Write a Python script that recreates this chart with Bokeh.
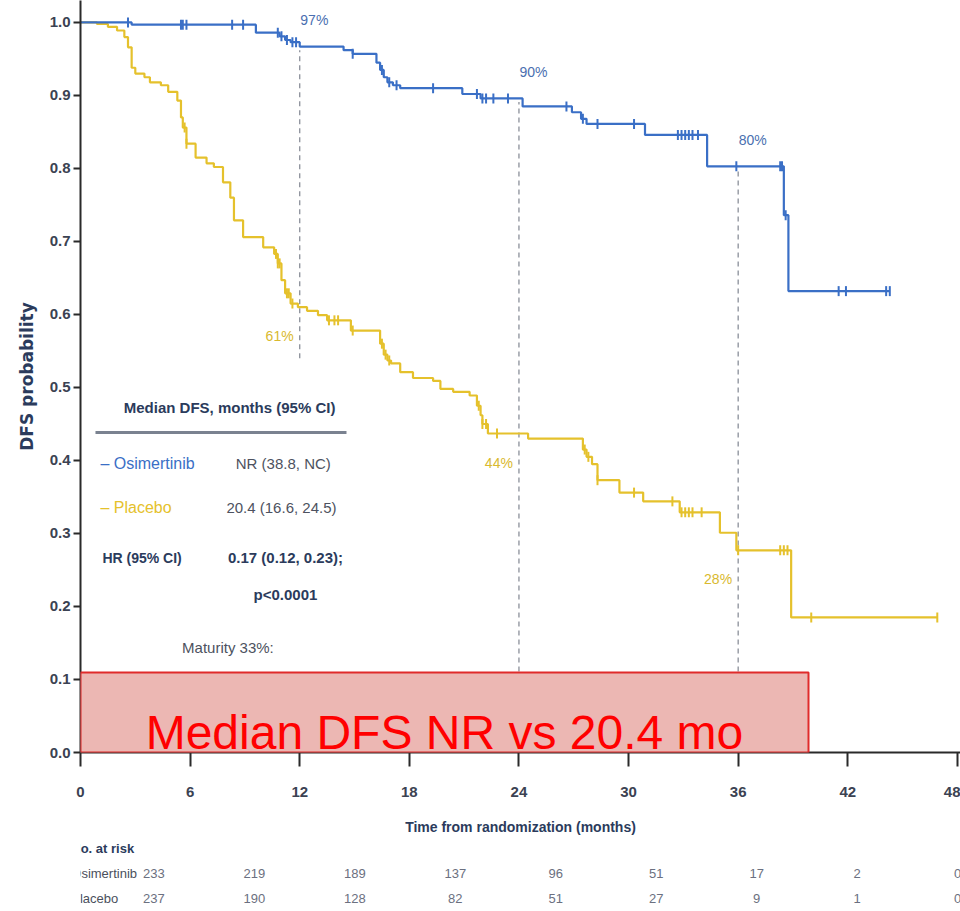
import numpy as np
from bokeh.plotting import figure
from bokeh.models import Range1d, FixedTicker, PrintfTickFormatter, BoxAnnotation, Label
from bokeh.layouts import column
from bokeh.embed import file_html
from bokeh.resources import INLINE
from bokeh.core.properties import value

# ---------------- data ----------------
osi_event_t = [0, 2.8, 9.6, 10.9, 11.2, 11.5, 12.0, 14.4, 14.9, 16.2, 16.4, 16.6, 16.8, 17.1, 17.5,
               20.9, 21.9, 24.2, 26.9, 27.4, 27.7, 30.9, 34.3, 38.5, 38.75]
osi_surv = [1.0, 0.997, 0.986, 0.981, 0.976, 0.973, 0.967, 0.962, 0.957, 0.945, 0.935, 0.925, 0.918, 0.914, 0.910,
            0.902, 0.896, 0.885, 0.877, 0.868, 0.861, 0.846, 0.803, 0.736, 0.632]
osi_last_fu = 44.3
osi_censor_t = [2.6, 5.5, 5.6, 5.8, 8.3, 8.9, 10.8, 11.0, 11.3, 11.6, 11.8, 14.9, 16.5, 16.9, 17.3, 19.3,
                21.7, 22.0, 22.2, 22.6, 23.4, 26.6, 27.5, 28.3, 30.3, 32.7, 32.9, 33.1, 33.3, 33.5, 33.8,
                35.9, 38.3, 38.4, 38.6, 41.5, 41.9, 44.1, 44.3]

pla_event_t = [0, 0.9, 1.5, 2.0, 2.4, 2.6, 2.8, 3.0, 3.5, 3.8, 4.4, 4.8, 5.3, 5.5, 5.6, 5.8, 6.3, 6.9, 7.3,
               7.8, 8.2, 8.4, 8.9, 10.0, 10.6, 10.8, 11.0, 11.2, 11.5, 11.9, 12.4, 13.0, 13.5, 14.8, 16.4,
               16.6, 16.8, 17.0, 17.5, 18.2, 19.3, 19.7, 20.4, 21.3, 21.7, 21.9, 22.0, 22.3, 24.5, 27.5,
               27.7, 28.0, 28.3, 29.5, 30.8, 32.8, 35.0, 35.9, 38.9]
pla_surv = [1.0, 0.998, 0.994, 0.989, 0.980, 0.966, 0.938, 0.930, 0.925, 0.918, 0.914, 0.905, 0.893, 0.870,
            0.856, 0.834, 0.815, 0.807, 0.802, 0.781, 0.760, 0.729, 0.706, 0.692, 0.683, 0.670, 0.647, 0.629,
            0.615, 0.610, 0.605, 0.599, 0.592, 0.578, 0.560, 0.545, 0.537, 0.533, 0.521, 0.513, 0.509, 0.498,
            0.494, 0.489, 0.475, 0.462, 0.450, 0.437, 0.430, 0.415, 0.405, 0.395, 0.373, 0.356, 0.344, 0.329,
            0.301, 0.277, 0.185]
pla_last_fu = 46.9
pla_censor_t = [5.7, 5.8, 10.7, 10.8, 10.9, 11.3, 11.4, 11.6, 13.6, 13.9, 14.1, 14.9, 16.5, 16.7, 16.9,
                21.8, 22.0, 22.2, 22.8, 27.6, 27.8, 28.3, 30.3, 32.4, 32.9, 33.1, 33.3, 33.5, 34.0, 36.0,
                38.3, 38.5, 38.7, 40.0, 46.9]

landmark_months = [12, 24, 36]
osi_landmark_pct = [97, 90, 80]
pla_landmark_pct = [61, 44, 28]

x_ticks = [0, 6, 12, 18, 24, 30, 36, 42, 48]
y_ticks = [0.0, 0.1, 0.2, 0.3, 0.4, 0.5, 0.6, 0.7, 0.8, 0.9, 1.0]

risk_osi = [233, 219, 189, 137, 96, 51, 17, 2, 0]
risk_pla = [237, 190, 128, 82, 51, 27, 9, 1, 0]

# ---------------- styling ----------------
BLUE = "#3a6fc6"
YELLOW = "#e5c12c"
NAVY = "#2b3b5c"
GRAY = "#4d5260"
FONT = "Liberation Sans"


def surv_at(ev_t, surv, t):
    idx = np.searchsorted(np.asarray(ev_t), np.asarray(t, dtype=float), side="right") - 1
    return np.asarray(surv)[idx]


X_END = 48.17
Y_END = 1.0301

p = figure(width=960, height=840, x_range=Range1d(0, X_END), y_range=Range1d(0, Y_END),
           toolbar_location=None, output_backend="svg",
           min_border_left=80, min_border_right=0, min_border_top=0, min_border_bottom=88)
p.grid.visible = False
p.outline_line_color = None
p.background_fill_color = "white"

# axes
p.xaxis.ticker = FixedTicker(ticks=x_ticks)
p.yaxis.ticker = FixedTicker(ticks=y_ticks)
p.yaxis.formatter = PrintfTickFormatter(format="%.1f")
for ax in (p.xaxis[0], p.yaxis[0]):
    ax.axis_line_color = "#2a2a2a"
    ax.axis_line_width = 2
    ax.major_tick_line_color = "#2a2a2a"
    ax.major_tick_line_width = 2
    ax.minor_tick_line_color = None
    ax.major_tick_in = 0
    ax.major_label_text_font = FONT
    ax.major_label_text_font_style = "bold"
    ax.major_label_text_font_size = "15px"
    ax.major_label_text_color = "#3b4252"
p.yaxis.major_tick_out = 7
p.yaxis.major_label_standoff = 3
p.xaxis.major_tick_out = 14
p.xaxis.major_label_standoff = 20

p.yaxis.axis_label = "DFS probability"
p.yaxis.axis_label_text_font = "DejaVu Sans"
p.yaxis.axis_label_text_font_style = "bold"
p.yaxis.axis_label_text_font_size = "17px"
p.yaxis.axis_label_text_color = NAVY
p.yaxis.axis_label_standoff = 10

p.xaxis.axis_label = "Time from randomization (months)"
p.xaxis.axis_label_text_font = FONT
p.xaxis.axis_label_text_font_style = "bold"
p.xaxis.axis_label_text_font_size = "14px"
p.xaxis.axis_label_text_color = NAVY
p.xaxis.axis_label_standoff = 19

# landmark dashed lines
lm = np.array(landmark_months, dtype=float)
lm_top = surv_at(osi_event_t, osi_surv, lm) - 0.005
lm_bottom = [0.54, 0.0, 0.0]
p.segment(x0=lm, y0=lm_bottom, x1=lm, y1=lm_top, line_color="#8a8f99", line_width=1.3, line_dash="5 4")

# curves
for ev, sv, last, cens, col in ((pla_event_t, pla_surv, pla_last_fu, pla_censor_t, YELLOW),
                                (osi_event_t, osi_surv, osi_last_fu, osi_censor_t, BLUE)):
    xs = list(ev) + [last]
    ys = list(sv) + [sv[-1]]
    p.step(xs, ys, mode="after", line_color=col, line_width=2.2)
    cy = surv_at(ev, sv, cens)
    p.scatter(cens, cy, marker="dash", angle=np.pi / 2, size=10, line_color=col, line_width=2)

# landmark percentage labels
osi_lm_y = surv_at(osi_event_t, osi_surv, lm)
pla_lm_y = surv_at(pla_event_t, pla_surv, lm)
p.text(x=lm + 0.8, y=osi_lm_y + 0.036, text=[f"{v}%" for v in osi_landmark_pct],
       text_font=value(FONT), text_font_size="14px", text_color="#4a6fb0",
       text_align="center", text_baseline="middle")
p.text(x=lm - 1.1, y=pla_lm_y - 0.04, text=[f"{v}%" for v in pla_landmark_pct],
       text_font=value(FONT), text_font_size="14px", text_color="#d9b92e",
       text_align="center", text_baseline="middle")

# summary box (median DFS / HR)
p.text(x=[8.16], y=[0.4726], text=["Median DFS, months (95% CI)"], text_font=value(FONT),
       text_font_style="bold", text_font_size="15px", text_color=NAVY,
       text_align="center", text_baseline="middle")
p.segment(x0=[0.82], y0=[0.4384], x1=[14.56], y1=[0.4384], line_color="#7a8290", line_width=3)
p.text(x=[1.09], y=[0.396], text=["– Osimertinib"], text_font=value(FONT), text_font_size="16px",
       text_color=BLUE, text_align="left", text_baseline="middle")
p.text(x=[1.09], y=[0.3356], text=["– Placebo"], text_font=value(FONT), text_font_size="16px",
       text_color=YELLOW, text_align="left", text_baseline="middle")
p.text(x=[11.1, 11.0], y=[0.396, 0.3356], text=["NR (38.8, NC)", "20.4 (16.6, 24.5)"],
       text_font=value(FONT), text_font_size="15px", text_color=GRAY,
       text_align="center", text_baseline="middle")
p.text(x=[1.2], y=[0.267], text=["HR (95% CI)"], text_font=value(FONT), text_font_style="bold",
       text_font_size="14px", text_color=NAVY, text_align="left", text_baseline="middle")
p.text(x=[11.22, 11.22], y=[0.267, 0.216], text=["0.17 (0.12, 0.23);", "p<0.0001"],
       text_font=value(FONT), text_font_style="bold", text_font_size="15px", text_color=NAVY,
       text_align="center", text_baseline="middle")
p.text(x=[8.07], y=[0.1438], text=["Maturity 33%:"], text_font=value(FONT), text_font_size="15px",
       text_color=GRAY, text_align="center", text_baseline="middle")

# highlighted callout
p.add_layout(BoxAnnotation(left=0, right=39.85, bottom=0, top=0.1096, fill_color="#ecb7b3", fill_alpha=1.0,
                           line_color="#e02b2b", line_alpha=1.0, line_width=2, level="annotation"))
p.add_layout(Label(x=19.92, y=0.0274, text="Median DFS NR vs 20.4 mo", text_font=FONT,
                   text_font_size="48px", text_color="#ff0000", text_align="center",
                   text_baseline="alphabetic", level="annotation"))

# ---------------- number at risk table ----------------
t = figure(width=960, height=71, x_range=Range1d(-80 / (880 / X_END), X_END), y_range=Range1d(71, 0),
           toolbar_location=None, output_backend="svg", x_axis_location=None, y_axis_location=None,
           min_border=0)
t.grid.visible = False
t.outline_line_color = None

t.text(x=[-4.93], y=[8], text=["No. at risk"], text_font=value(FONT), text_font_style="bold",
       text_font_size="13px", text_color=NAVY, text_align="left", text_baseline="middle")
t.text(x=[-4.93, -4.93], y=[33, 58], text=["Osimertinib", "Placebo"], text_font=value(FONT),
       text_font_size="13px", text_color="#4a4f5c", text_align="left", text_baseline="middle")
t.text(x=x_ticks, y=[33] * len(x_ticks), text=[str(v) for v in risk_osi], text_font=value(FONT),
       text_font_size="13px", text_color="#6b7080", text_align="center", text_baseline="middle")
t.text(x=x_ticks, y=[58] * len(x_ticks), text=[str(v) for v in risk_pla], text_font=value(FONT),
       text_font_size="13px", text_color="#6b7080", text_align="center", text_baseline="middle")

layout = column(p, t, spacing=0)
open("out.html", "w").write(file_html(layout, INLINE))
